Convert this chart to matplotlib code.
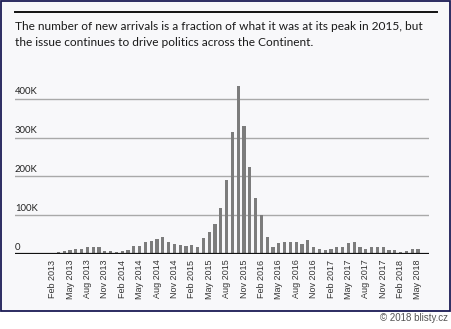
import matplotlib
matplotlib.use("Agg")
import matplotlib.pyplot as plt
from matplotlib.patches import Rectangle
import pandas as pd

# monthly arrivals, Jan 2013 - May 2018 (thousands)
arrivals = [
    2.6, 3.5, 6, 8.7, 11, 14, 14, 17, 19, 17, 7, 7,          # 2013
    4, 7, 10, 21, 21, 30, 34, 39, 43, 32, 26, 24,            # 2014
    21, 23, 19, 40, 56, 76, 119, 191, 314, 434, 329, 223,    # 2015
    145, 100, 44, 19, 28, 30, 30, 30, 26, 37, 19, 14,        # 2016
    10, 14, 17, 17, 29, 30, 19, 14, 17, 17, 17, 10,          # 2017
    10, 6, 8, 14, 14,                                        # 2018
]
months = pd.date_range("2013-01-01", periods=len(arrivals), freq="MS")
month_labels = [m.strftime("%b %Y") for m in months]
y_ticks = [0, 100, 200, 300, 400]
y_labels = ["0", "100K", "200K", "300K", "400K"]
title = ("The number of new arrivals is a fraction of what it was at its peak in 2015, but\n"
         "the issue continues to drive politics across the Continent.")
credit = "\u00a9 2018 blisty.cz"

W, H = 452, 329
fig = plt.figure(figsize=(W / 100, H / 100), dpi=100)
fig.patch.set_facecolor("white")

# framed card behind everything
fig.patches.append(Rectangle((1 / W, (H - 311) / H), 449 / W, 310 / H,
                             transform=fig.transFigure, facecolor="#f8f8fa",
                             edgecolor="#1b1b55", linewidth=1.3, zorder=-5))
fig.add_artist(plt.Line2D([15 / W, 437 / W], [(H - 12) / H] * 2,
                          color="#111111", linewidth=1.4))
fig.text(15 / W, (H - 21) / H, title, ha="left", va="top", fontsize=8.6,
         family="Lato", color="#1a1a1a", linespacing=1.5)
fig.text(448 / W, (H - 318) / H, credit, ha="right", va="center", fontsize=7,
         family="Liberation Sans", color="#555555")

ax = fig.add_axes([15 / W, (H - 254) / H, 414 / W, 184 / H])
ax.set_facecolor("none")
x = list(range(len(arrivals)))
ax.bar(x, arrivals, width=0.55, color="#7c7c7c", zorder=3)

ax.set_xlim(-5.5, 65.9)
ax.set_ylim(0, 474)
for v, lab in zip(y_ticks, y_labels):
    if v > 0:
        ax.axhline(v, color="#a9a9a9", linewidth=1.0, zorder=1)
    ax.text(0, v + 6, lab, transform=ax.get_yaxis_transform(), ha="left",
            va="bottom", fontsize=6.8, family="Lato", color="#222222")
ax.axhline(0, color="#111111", linewidth=1.6, zorder=4)

ax.set_yticks([])
ax.set_xticks(x[1::3])
ax.set_xticklabels(month_labels[1::3], rotation=90, fontsize=6.5,
                   family="Liberation Sans", color="#333333")
ax.tick_params(axis="x", length=0, pad=4)
for s in ax.spines.values():
    s.set_visible(False)

fig.savefig("out.png", dpi=100)
